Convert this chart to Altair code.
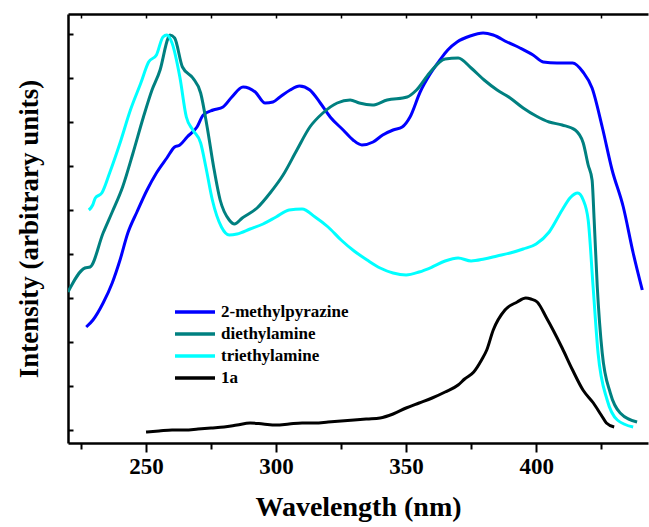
import altair as alt
import pandas as pd

series_names = ["2-methylpyrazine", "diethylamine", "triethylamine", "1a"]
series_colors = ["#0000FF", "#008080", "#00FFFF", "#000000"]

# 2-methylpyrazine
wl_mp = [227, 229.6, 233.5, 237, 240, 243, 246.5, 250.4, 254, 258, 261, 263, 265.8, 269.6, 272, 275.8,
         279.6, 283, 287.3, 292, 295.8, 298.8, 301.5, 305.4, 309, 313, 317, 320.8, 325.8, 329.6, 333,
         337.3, 341, 345, 348.5, 351.5, 355.4, 359, 363, 366, 369.6, 374.6, 379.6, 383.5, 388.8, 393.8,
         398.8, 402.7, 408, 414, 418, 421.5, 425.4, 429.2, 433.5, 437.3, 440.8]
in_mp = [103, 110, 127, 147, 170, 197, 218, 240, 257, 272, 283, 285, 293, 303, 315, 320,
         323, 333, 343, 338, 327, 328, 333, 340, 344, 340, 327, 313, 300, 290, 285,
         288, 295, 300, 303, 313, 338, 355, 370, 380, 388, 394, 397, 395, 388, 382,
         375, 368, 367, 367, 358, 342, 303, 260, 223, 177, 140]

# diethylamine
wl_de = [220, 226.5, 228.5, 233.5, 237, 241, 245, 249, 252.3, 255.4, 258.5, 259.2, 261, 264, 268, 271,
         273.5, 276, 278.5, 282, 284, 287, 292.7, 297.7, 302.7, 308, 313, 318, 323.5, 328.5, 332, 337,
         342.7, 350.4, 354, 359, 365, 370, 375, 380, 385, 390, 395, 400, 405, 410, 415, 418.1, 420,
         421.5, 422.3, 423.5, 425.4, 428.5, 432.3, 438.8]
in_de = [138, 162, 163, 197, 218, 243, 277, 313, 340, 360, 392, 395, 392, 363, 352, 337,
         303, 263, 230, 210, 206, 212, 222, 237, 255, 280, 303, 317, 327, 330, 327, 325,
         330, 333, 340, 357, 371, 372, 362, 350, 340, 332, 322, 314, 308, 305, 300, 287, 265,
         250, 210, 143, 77, 37, 17, 8]

# triethylamine
wl_te = [228, 229.5, 230.5, 233, 236, 240, 244, 248, 251, 254, 256.5, 258, 260, 263, 265.5, 268, 271,
         273, 275.5, 279, 282, 285, 290, 295, 300, 305, 310, 315, 320, 325, 330, 335, 340, 345, 350,
         355, 360, 365, 370, 375, 380, 385, 390, 395, 400, 405, 410, 413, 416, 418.1, 420, 421.9,
         423.8, 427.3, 431.2, 437.3]
in_te = [220, 225, 232, 237, 257, 287, 320, 347, 368, 375, 393, 395, 387, 353, 313, 300, 287,
         263, 230, 203, 195, 196, 201, 206, 213, 220, 221, 213, 203, 190, 179, 170, 162, 157, 155,
         158, 163, 169, 172, 169, 171, 174, 177, 181, 186, 198, 220, 232, 237, 230, 210, 143,
         77, 30, 10, 3]

# 1a
wl_1a = [250, 255, 260, 265, 270, 275, 280, 285, 290, 295, 300, 305, 310, 315, 320, 325, 330, 335,
         340, 345, 350, 355, 360, 365, 370, 372.5, 376, 379, 381, 383.5, 388, 392.7, 396, 398, 400.4,
         404, 406.5, 410, 414, 418, 422, 425, 427, 430]
in_1a = [-2, -1, 0, 0, 1, 2, 3, 5, 7, 6, 5, 6, 7, 7, 8, 9, 10, 11,
         12, 16, 22, 27, 32, 38, 45, 51, 58, 70, 80, 100, 120, 128, 132, 131, 128,
         112, 100, 82, 60, 40, 27, 15, 7, 3]

x_ticks = [225, 250, 275, 300, 325, 350, 375, 400, 425]
y_ticks = [0, 44, 88, 132, 176, 220, 264, 308, 352, 396]

rows = []
for name, wl, iv in [(series_names[0], wl_mp, in_mp), (series_names[1], wl_de, in_de),
                     (series_names[2], wl_te, in_te), (series_names[3], wl_1a, in_1a)]:
    for i, (w, v) in enumerate(zip(wl, iv)):
        rows.append({"series": name, "wavelength": w, "intensity": v, "order": i})
df = pd.DataFrame(rows)

FONT = "Liberation Serif"
xscale = alt.Scale(domain=[220, 443], nice=False, zero=False)
yscale = alt.Scale(domain=[-13, 416], nice=False, zero=False)

lines = alt.Chart(df).mark_line(strokeWidth=3, clip=True, interpolate="monotone").encode(
    x=alt.X("wavelength:Q", scale=xscale,
            axis=alt.Axis(orient="bottom", title="Wavelength (nm)", values=x_ticks,
                          labelExpr="datum.value % 50 === 0 ? datum.label : ''",
                          tickSize={"condition": {"test": "datum.value % 50 === 0", "value": 9}, "value": 6},
                          tickWidth=2, domainWidth=2.5, domainColor="black", tickColor="black",
                          labelFont=FONT, labelFontSize=23, labelFontWeight="bold", labelColor="black",
                          labelPadding=3, grid=False,
                          titleFont=FONT, titleFontSize=28, titleFontWeight="bold", titleColor="black",
                          titlePadding=15)),
    y=alt.Y("intensity:Q", scale=yscale,
            axis=alt.Axis(orient="left", title="Intensity (arbitrary units)", values=y_ticks,
                          labels=False, tickSize={"expr": "-5"}, tickWidth=2, domainWidth=2.5,
                          domainColor="black", tickColor="black", grid=False,
                          titleFont=FONT, titleFontSize=27, titleFontWeight="bold", titleColor="black",
                          titlePadding=24)),
    color=alt.Color("series:N", scale=alt.Scale(domain=series_names, range=series_colors),
                    legend=alt.Legend(title=None, orient="none", legendX=115, legendY=286,
                                      symbolType="M-2,0H2", symbolSize=400, symbolStrokeWidth=3.5,
                                      labelFont=FONT, labelFontSize=17, labelFontWeight="bold",
                                      labelColor="black", labelOffset=14, rowPadding=2, padding=0)),
    detail="series:N",
    order="order:Q",
)

top = alt.Chart(df).mark_point(opacity=0).encode(
    x=alt.X("wavelength:Q", scale=xscale,
            axis=alt.Axis(orient="top", title=None, values=x_ticks, labels=False,
                          tickSize={"expr": "-4"}, tickWidth=1.5, domainWidth=2.5,
                          domainColor="black", tickColor="black", grid=False)),
)

chart = alt.layer(lines, top).resolve_axis(x="independent").properties(
    width=580, height=429,
    autosize=alt.AutoSizeParams(type="none"),
    padding={"left": 68, "top": 14, "right": 1, "bottom": 80},
).configure_view(stroke=None)

chart.save("out.html", embed_options={"renderer": "svg", "actions": False})
